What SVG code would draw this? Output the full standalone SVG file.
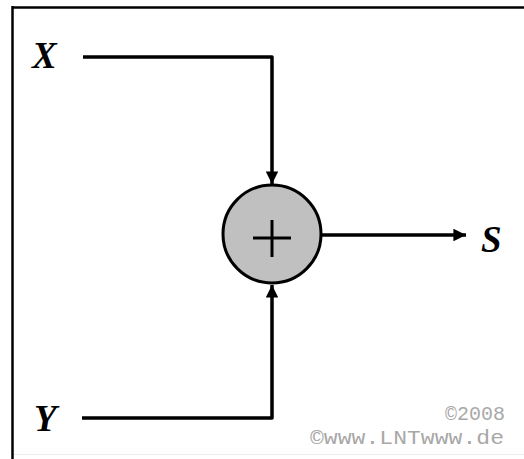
<svg xmlns="http://www.w3.org/2000/svg" width="524" height="459" viewBox="0 0 524 459">
<style>
.w{fill:none;stroke:#000;stroke-width:3.5;stroke-linejoin:round}
.lbl{font-family:"Liberation Serif",serif;font-weight:bold;font-style:italic;font-size:37px;fill:#000}
.cp{font-family:"Liberation Mono",monospace;font-size:20px;fill:#a8a8a8}
</style>
<defs>
<marker id="ah" viewBox="0 0 10 10" refX="10" refY="5" markerWidth="4" markerHeight="3.6" orient="auto" markerUnits="strokeWidth">
<path d="M0,0 L10,5 L0,10 Z" fill="#000"/>
</marker>
</defs>
<rect width="524" height="459" fill="#fff"/>
<g id="frame">
<line x1="12" y1="7.5" x2="524" y2="7.5" stroke="#000" stroke-width="2.5"/>
<line x1="12.5" y1="6" x2="12.5" y2="459" stroke="#000" stroke-width="2.5"/>
<line x1="14" y1="454.5" x2="524" y2="454.5" stroke="#ececec" stroke-width="1"/>
</g>
<g id="connectors">
<path class="w" d="M83,57 H272 V184" marker-end="url(#ah)"/>
<path class="w" d="M82,418 H272 V285" marker-end="url(#ah)"/>
<path class="w" d="M321,235 H466" marker-end="url(#ah)"/>
</g>
<g id="adder">
<circle cx="272" cy="234" r="49" fill="#c0c0c0" stroke="#000" stroke-width="3"/>
<path d="M253,238 H291 M272,220 V257" stroke="#000" stroke-width="3" fill="none"/>
</g>
<g id="labelX"><text class="lbl" x="32" y="68">X</text></g>
<g id="labelY"><text class="lbl" x="34" y="431">Y</text></g>
<g id="labelS"><text class="lbl" x="481" y="252">S</text></g>
<g id="copyright">
<text class="cp" x="505" y="420" text-anchor="end">©2008</text>
<text class="cp" x="310" y="444" textLength="194" lengthAdjust="spacingAndGlyphs">©www.LNTwww.de</text>
</g>
</svg>
